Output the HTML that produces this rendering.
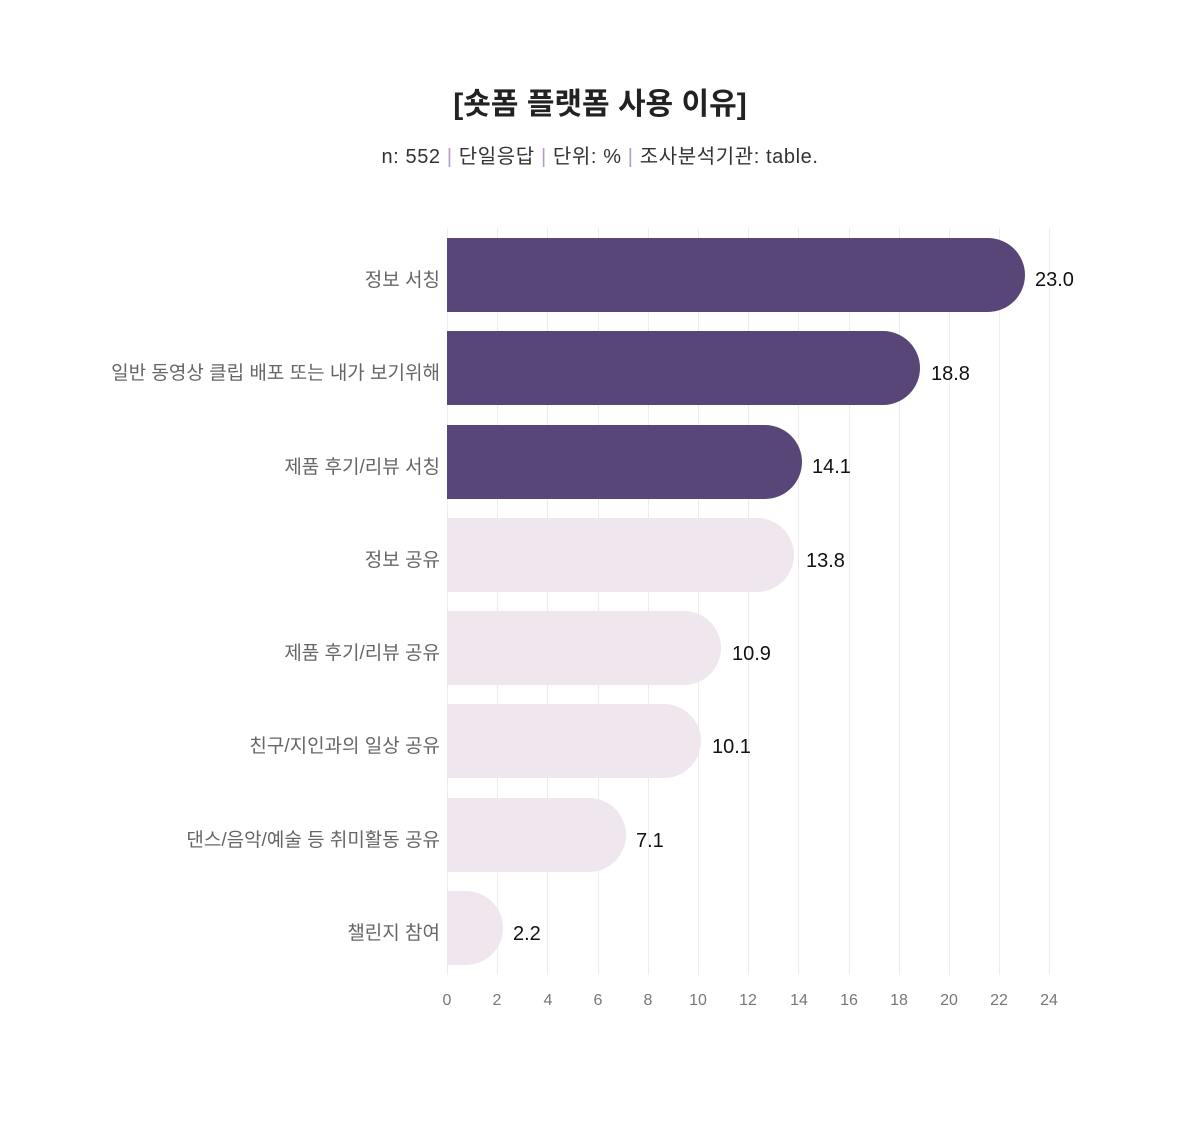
<!DOCTYPE html>
<html><head><meta charset="utf-8"><style>
body{margin:0;background:#fff;}
svg text{font-family:"Liberation Sans","Noto Sans CJK KR",sans-serif;}
</style></head><body>
<svg width="1200" height="1118" viewBox="0 0 1200 1118" xmlns="http://www.w3.org/2000/svg">
<text x="600" y="114" text-anchor="middle" font-size="30" font-weight="bold" fill="#222">[숏폼 플랫폼 사용 이유]</text>
<text x="600" y="163" text-anchor="middle" font-size="20" letter-spacing="0.6" fill="#333">n: 552 <tspan fill="#b59cc6">|</tspan>  단일응답 <tspan fill="#b59cc6">|</tspan> 단위: % <tspan fill="#b59cc6">|</tspan> 조사분석기관: table.</text>
<g stroke="#ececec" stroke-width="1">
<line x1="447.5" y1="228" x2="447.5" y2="975"/><line x1="497.5" y1="228" x2="497.5" y2="975"/><line x1="547.5" y1="228" x2="547.5" y2="975"/><line x1="598.5" y1="228" x2="598.5" y2="975"/><line x1="648.5" y1="228" x2="648.5" y2="975"/><line x1="698.5" y1="228" x2="698.5" y2="975"/><line x1="748.5" y1="228" x2="748.5" y2="975"/><line x1="798.5" y1="228" x2="798.5" y2="975"/><line x1="849.5" y1="228" x2="849.5" y2="975"/><line x1="899.5" y1="228" x2="899.5" y2="975"/><line x1="949.5" y1="228" x2="949.5" y2="975"/><line x1="999.5" y1="228" x2="999.5" y2="975"/><line x1="1049.5" y1="228" x2="1049.5" y2="975"/>
</g>
<g>
<path d="M447,238H988A37,37 0 0 1 1025,275A37,37 0 0 1 988,312H447Z" fill="#574677"/>
<path d="M447,331H883A37,37 0 0 1 920,368A37,37 0 0 1 883,405H447Z" fill="#574677"/>
<path d="M447,425H765A37,37 0 0 1 802,462A37,37 0 0 1 765,499H447Z" fill="#574677"/>
<path d="M447,518H757A37,37 0 0 1 794,555A37,37 0 0 1 757,592H447Z" fill="#efe6ee"/>
<path d="M447,611H684A37,37 0 0 1 721,648A37,37 0 0 1 684,685H447Z" fill="#efe6ee"/>
<path d="M447,704H664A37,37 0 0 1 701,741A37,37 0 0 1 664,778H447Z" fill="#efe6ee"/>
<path d="M447,798H589A37,37 0 0 1 626,835A37,37 0 0 1 589,872H447Z" fill="#efe6ee"/>
<path d="M447,891H466A37,37 0 0 1 503,928A37,37 0 0 1 466,965H447Z" fill="#efe6ee"/>
</g>
<g font-size="20" fill="#111">
<text x="1035" y="286">23.0</text><text x="931" y="380">18.8</text><text x="812" y="473">14.1</text><text x="806" y="567">13.8</text><text x="732" y="660">10.9</text><text x="712" y="753">10.1</text><text x="636" y="847">7.1</text><text x="513" y="940">2.2</text>
</g>
<g font-size="19" fill="#666" text-anchor="end">
<text x="440" y="286">정보 서칭</text><text x="440" y="379">일반 동영상 클립 배포 또는 내가 보기위해</text><text x="440" y="473">제품 후기/리뷰 서칭</text><text x="440" y="566">정보 공유</text><text x="440" y="659">제품 후기/리뷰 공유</text><text x="440" y="752">친구/지인과의 일상 공유</text><text x="440" y="846">댄스/음악/예술 등 취미활동 공유</text><text x="440" y="939">챌린지 참여</text>
</g>
<g font-size="16" fill="#777" text-anchor="middle">
<text x="447" y="1005">0</text><text x="497" y="1005">2</text><text x="548" y="1005">4</text><text x="598" y="1005">6</text><text x="648" y="1005">8</text><text x="698" y="1005">10</text><text x="748" y="1005">12</text><text x="799" y="1005">14</text><text x="849" y="1005">16</text><text x="899" y="1005">18</text><text x="949" y="1005">20</text><text x="999" y="1005">22</text><text x="1049" y="1005">24</text>
</g>
</svg>
</body></html>
